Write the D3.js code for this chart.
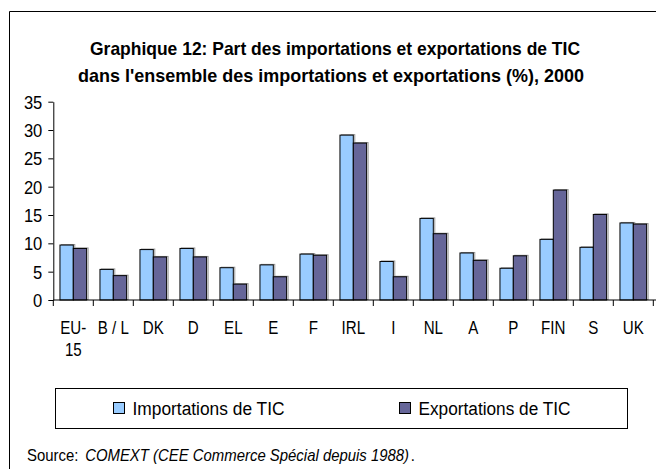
<!DOCTYPE html>
<html>
<head>
<meta charset="utf-8">
<script src="https://cdn.jsdelivr.net/npm/d3@7"></script>
<style>
  body { margin: 0; background: #fff; }
  svg { display: block; }
  text { font-family: "Liberation Sans Narrow", "Arial Narrow", "Liberation Sans", sans-serif; fill: #000; }
</style>
</head>
<body>
<script>
// donnees
var categories = ["EU-15", "B / L", "DK", "D", "EL", "E", "F", "IRL", "I", "NL", "A", "P", "FIN", "S", "UK"];
var importations = [9.7, 5.4, 8.9, 9.1, 5.7, 6.2, 8.1, 29.1, 6.8, 14.4, 8.3, 5.6, 10.7, 9.3, 13.6];
var exportations = [9.1, 4.3, 7.6, 7.6, 2.8, 4.1, 7.9, 27.7, 4.1, 11.7, 7.0, 7.8, 19.4, 15.1, 13.4];
var seriesNames = ["Importations de TIC", "Exportations de TIC"];
var seriesColors = ["#99ccff", "#666699"];
var yTicks = [0, 5, 10, 15, 20, 25, 30, 35];

var w = 656;
var h = 469;

// pas de police etroite : on resserre le texte
function condense(node, width) {
    node.setAttribute("textLength", width);
    node.setAttribute("lengthAdjust", "spacingAndGlyphs");
}
function condenseBy(node, f) {
    var l = node.getComputedTextLength() * f;
    condense(node, l);
    return l;
}

var svg = d3.select("body").append("svg")
            .attr("width", w)
            .attr("height", h);

// cadre
svg.append("path")
    .attr("d", "M9.5,469 V11.5 H656")
    .attr("fill", "none")
    .attr("stroke", "#000")
    .attr("stroke-width", 1);

// titre
var t1 = svg.append("text")
    .attr("x", 335).attr("y", 55)
    .attr("text-anchor", "middle")
    .attr("font-size", "19px").attr("font-weight", "bold")
    .text("Graphique 12: Part des importations et exportations de TIC");
condense(t1.node(), 490);
var t2 = svg.append("text")
    .attr("x", 331).attr("y", 82)
    .attr("text-anchor", "middle")
    .attr("font-size", "19px").attr("font-weight", "bold")
    .text("dans l'ensemble des importations et exportations (%), 2000");
condense(t2.node(), 506);

var x0 = d3.scaleBand()
    .domain(categories)
    .range([53.3, 653.3]);

var x1 = d3.scaleBand()
    .domain([0, 1])
    .range([x0.bandwidth() / 6, x0.bandwidth() * 5 / 6]);

var y = d3.scaleLinear()
    .domain([0, 35])
    .range([300, 101.7]);

var data = categories.map(function(c, i) {
    return { cat: c, values: [importations[i], exportations[i]] };
});

// barres
var groups = svg.selectAll("g.grp")
    .data(data)
    .enter()
    .append("g")
    .attr("class", "grp")
    .attr("transform", function(d) { return "translate(" + x0(d.cat) + ",0)"; });

groups.selectAll("rect.shadow")
    .data(function(d) { return d.values; })
    .enter()
    .append("rect")
    .attr("class", "shadow")
    .attr("x", function(d, i) { return x1(i) + 1.5; })
    .attr("y", function(d) { return y(d) - 0.5; })
    .attr("width", x1.bandwidth())
    .attr("height", function(d) { return y(0) - y(d); })
    .attr("fill", "none")
    .attr("stroke", "#999")
    .attr("stroke-width", 1);

groups.selectAll("rect.bar")
    .data(function(d) { return d.values; })
    .enter()
    .append("rect")
    .attr("class", "bar")
    .attr("x", function(d, i) { return x1(i); })
    .attr("y", function(d) { return y(d); })
    .attr("width", x1.bandwidth())
    .attr("height", function(d) { return y(0) - y(d); })
    .attr("fill", function(d, i) { return seriesColors[i]; })
    .attr("stroke", "#000")
    .attr("stroke-width", 1);

// axe y
var yAxis = svg.append("g")
    .attr("transform", "translate(53.3,0)")
    .call(d3.axisLeft(y).tickValues(yTicks).tickSize(5).tickSizeOuter(0).tickPadding(6));
yAxis.selectAll("text").attr("font-size", "18px").attr("dy", "0.36em")
    .each(function() { condenseBy(this, 0.92); });
yAxis.selectAll("line, path").attr("stroke", "#000");

// axe x
svg.append("line")
    .attr("x1", 53.3).attr("x2", 656)
    .attr("y1", y(0)).attr("y2", y(0))
    .attr("stroke", "#000");

svg.selectAll("line.xtick")
    .data(categories.concat([null]))
    .enter()
    .append("line")
    .attr("class", "xtick")
    .attr("x1", function(d) { return d === null ? x0.range()[1] : x0(d); })
    .attr("x2", function(d) { return d === null ? x0.range()[1] : x0(d); })
    .attr("y1", y(0))
    .attr("y2", y(0) + 6)
    .attr("stroke", "#000");

var xLabels = svg.selectAll("text.xlab")
    .data(categories)
    .enter()
    .append("text")
    .attr("class", "xlab")
    .attr("x", function(d) { return x0(d) + x0.bandwidth() / 2; })
    .attr("y", 334)
    .attr("text-anchor", "middle")
    .attr("font-size", "18px");

xLabels.each(function(d) {
    var parts = d.indexOf("-") > 0 ? [d.split("-")[0] + "-", d.split("-")[1]] : [d];
    var t = d3.select(this);
    parts.forEach(function(p, k) {
        var ts = t.append("tspan")
            .attr("x", x0(d) + x0.bandwidth() / 2)
            .attr("dy", k === 0 ? 0 : 22)
            .text(p);
        condenseBy(ts.node(), 0.84);
    });
});

// legende
var legend = svg.append("g");
legend.append("rect")
    .attr("x", 55.5).attr("y", 388.5)
    .attr("width", 572).attr("height", 40)
    .attr("fill", "#fff")
    .attr("stroke", "#000");

var legX = [113.5, 399.5];
seriesNames.forEach(function(s, i) {
    legend.append("rect")
        .attr("x", legX[i]).attr("y", 402.5)
        .attr("width", 11).attr("height", 11)
        .attr("fill", seriesColors[i])
        .attr("stroke", "#000");
    var lt = legend.append("text")
        .attr("x", legX[i] + 19).attr("y", 415)
        .attr("font-size", "18px")
        .text(s);
    condense(lt.node(), 152);
});

// source
var src = svg.append("text")
    .attr("x", 27).attr("y", 461)
    .attr("font-size", "17px");
src.append("tspan").text("Source: ");
src.append("tspan").attr("font-style", "italic").attr("dx", 3)
    .text("COMEXT (CEE Commerce Spécial depuis 1988)");
src.append("tspan").attr("dx", 2).text(".");
condense(src.node(), 388);
</script>
</body>
</html>
